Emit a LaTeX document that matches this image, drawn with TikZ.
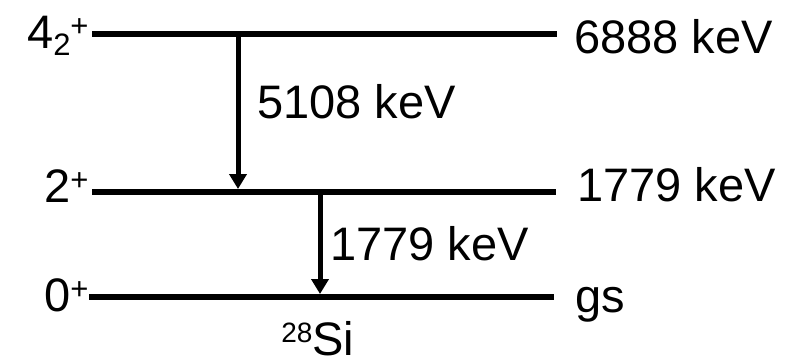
\documentclass[tikz,border=0pt]{standalone}
\usepackage{fontspec}
\setmainfont{Liberation Sans}
\usetikzlibrary{arrows.meta}
\newcommand{\upidx}[1]{\raisebox{6pt}{\fontsize{15.5}{16}\selectfont #1}}
\newcommand{\downidx}[1]{\raisebox{-3.5pt}{\fontsize{15.5}{16}\selectfont #1}}

\begin{document}
\begin{tikzpicture}[x=0.5pt, y=-0.5pt, every node/.style={font=\fontsize{23.5}{28}\selectfont, inner sep=0pt}, >={Triangle[width=8.5pt, length=7.5pt]}, level/.style={line width=3pt}, gamma/.style={->, line width=2.5pt}]
	\useasboundingbox (0,0) rectangle (790,361);
	% levels
	\foreach \lev/\xa/\xb/\y in {top/92/557/33.5, mid/92/556/191.5, gs/89/554/296.5} {
		\coordinate (\lev L) at (\xa,\y);
		\coordinate (\lev R) at (\xb,\y);
		\draw[level] (\lev L) -- (\lev R);
	}
	\node[anchor=base east] (spintop) at (89,48) {4\downidx{2}\upidx{+}};
	\node[anchor=base east] (spinmid) at (89,202) {2\upidx{+}};
	\node[anchor=base east] (spings) at (89,311) {0\upidx{+}};
	\node[anchor=base west] (etop) at (574,53) {6888 keV};
	\node[anchor=base west] (emid) at (577,201) {1779 keV};
	\node[anchor=base west] (egs) at (575,312) {gs};
	% gamma rays
	\coordinate (gA1) at (238,33.5);
	\coordinate (gA2) at (238,189);
	\coordinate (gB1) at (320,191.5);
	\coordinate (gB2) at (320,294);
	\draw[gamma] (gA1) -- (gA2);
	\draw[gamma] (gB1) -- (gB2);
	\node[anchor=base west] (gAlab) at (257,118) {5108 keV};
	\node[anchor=base west] (gBlab) at (330,260) {1779 keV};
	\node[anchor=base west] (nucl) at (281,355) {\raisebox{6.5pt}{\fontsize{14}{14}\selectfont 28}Si};
\end{tikzpicture}
\end{document}
